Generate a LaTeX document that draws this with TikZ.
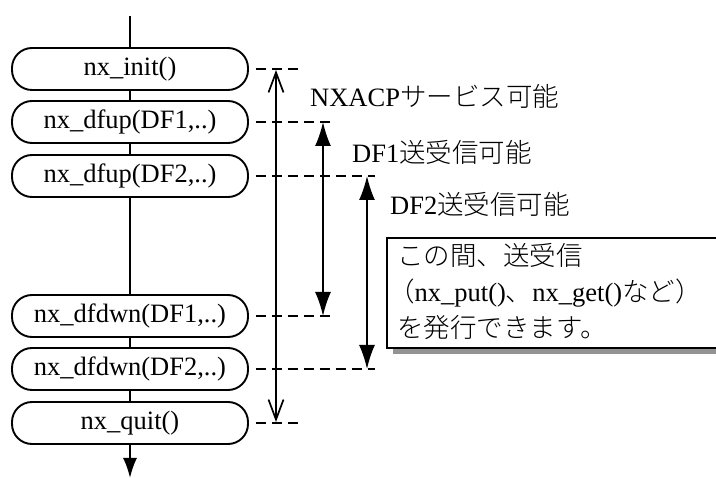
\documentclass[tikz,border=0pt]{standalone}
\usepackage{fontspec}
\setmainfont{Liberation Serif}
\newfontfamily\jp{Noto Sans CJK JP Light}
\usetikzlibrary{arrows.meta}
\begin{document}
\begin{tikzpicture}[x=1pt,y=-1pt,
  fn/.style={draw,line width=1.9pt,fill=white,rounded corners=20pt,
    minimum width=236pt,minimum height=42pt,inner sep=0pt,
    font=\fontsize{26.5}{30}\selectfont},
  flow/.style={line width=1.9pt},
  guide/.style={line width=1.7pt,dash pattern=on 10pt off 6pt},
  span/.style={line width=1.7pt},
  lbl/.style={anchor=base west,inner sep=0pt,font=\fontsize{26.5}{30}\selectfont}]
\useasboundingbox (0,0) rectangle (716,478);
% flow
\coordinate (top) at (130,16);
\coordinate (bot) at (130,478);
\node[fn] (init) at (130,69) {nx\_init()};
\node[fn] (up1) at (130,122) {nx\_dfup(DF1,..)};
\node[fn] (up2) at (130,176) {nx\_dfup(DF2,..)};
\node[fn] (dn1) at (130,316) {nx\_dfdwn(DF1,..)};
\node[fn] (dn2) at (130,369) {nx\_dfdwn(DF2,..)};
\node[fn] (quit) at (130,423) {nx\_quit()};
\draw[flow] (top) -- (init);
\draw[flow] (init) -- (up1);
\draw[flow] (up1) -- (up2);
\draw[flow] (up2) -- (dn1);
\draw[flow] (dn1) -- (dn2);
\draw[flow] (dn2) -- (quit);
\draw[flow,-{Latex[length=20pt,width=14pt]}] (quit) -- (bot);
% guides
\coordinate (g1) at (300,69);
\coordinate (g2) at (332,122);
\coordinate (g3) at (375,176);
\coordinate (g4) at (332,316);
\coordinate (g5) at (375,369);
\coordinate (g6) at (300,423);
\draw[guide] ([xshift=7pt]init.east) -- (g1);
\draw[guide] ([xshift=7pt]up1.east) -- (g2);
\draw[guide] ([xshift=7pt]up2.east) -- (g3);
\draw[guide] ([xshift=7pt]dn1.east) -- (g4);
\draw[guide] ([xshift=7pt]dn2.east) -- (g5);
\draw[guide] ([xshift=7pt]quit.east) -- (g6);
% spans
\coordinate (a1s) at (276,70);
\coordinate (a1e) at (276,422);
\coordinate (a2s) at (323,122);
\coordinate (a2e) at (323,316);
\coordinate (a3s) at (367,176);
\coordinate (a3e) at (367,369);
\draw[span,{Straight Barb[length=20pt,width=15pt]}-{Straight Barb[length=20pt,width=15pt]}] (a1s) -- (a1e);
\draw[span,{Latex[length=24pt,width=16pt]}-{Latex[length=24pt,width=16pt]}] (a2s) -- (a2e);
\draw[span,{Latex[length=24pt,width=16pt]}-{Latex[length=24pt,width=16pt]}] (a3s) -- (a3e);
% labels
\node[lbl] (l1) at (310,107) {NXACP{\jp サービス可能}};
\node[lbl] (l2) at (352,163) {DF1{\jp 送受信可能}};
\node[lbl] (l3) at (390,215) {DF2{\jp 送受信可能}};
% note box
\fill[gray!85] (393,244) rectangle (730,354);
\draw[line width=2pt,fill=white] (387,238) rectangle (724,348);
\node[lbl] (n1) at (397,266) {\jp この間、送受信};
\node[lbl] (n2) at (388,302) {{\jp （}nx\_put(){\jp 、}nx\_get(){\jp など）}};
\node[lbl] (n3) at (397,338) {\jp を発行できます。};
\end{tikzpicture}
\end{document}
